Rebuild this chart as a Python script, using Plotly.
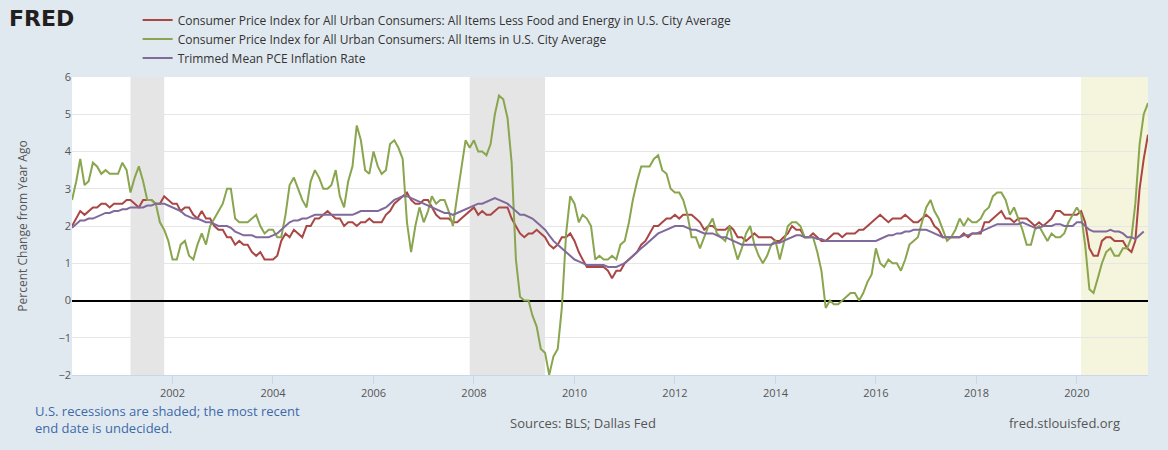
import plotly.graph_objects as go
import pandas as pd

core = [2.0,2.2,2.4,2.3,2.4,2.5,2.5,2.6,2.6,2.5,2.6,2.6,
2.6,2.7,2.7,2.6,2.5,2.7,2.7,2.7,2.6,2.6,2.8,2.7,
2.6,2.6,2.4,2.5,2.5,2.3,2.2,2.4,2.2,2.2,2.0,1.9,
1.9,1.7,1.7,1.5,1.6,1.5,1.5,1.3,1.2,1.3,1.1,1.1,
1.1,1.2,1.6,1.8,1.7,1.9,1.8,1.7,2.0,2.0,2.2,2.2,
2.3,2.4,2.3,2.2,2.2,2.0,2.1,2.1,2.0,2.1,2.1,2.2,
2.1,2.1,2.1,2.3,2.4,2.6,2.7,2.8,2.9,2.7,2.6,2.6,
2.7,2.7,2.5,2.3,2.2,2.2,2.2,2.1,2.1,2.2,2.3,2.4,
2.5,2.3,2.4,2.3,2.3,2.4,2.5,2.5,2.5,2.2,2.0,1.8,
1.7,1.8,1.8,1.9,1.8,1.7,1.5,1.4,1.5,1.7,1.7,1.8,
1.6,1.3,1.1,0.9,0.9,0.9,0.9,0.9,0.8,0.6,0.8,0.8,
1.0,1.1,1.2,1.3,1.5,1.6,1.8,2.0,2.0,2.1,2.2,2.2,
2.3,2.2,2.3,2.3,2.3,2.2,2.1,1.9,2.0,2.0,1.9,1.9,
1.9,2.0,1.9,1.7,1.7,1.6,1.7,1.8,1.7,1.7,1.7,1.7,
1.6,1.6,1.7,1.8,2.0,1.9,1.9,1.7,1.7,1.8,1.7,1.6,
1.6,1.7,1.8,1.8,1.7,1.8,1.8,1.8,1.9,1.9,2.0,2.1,
2.2,2.3,2.2,2.1,2.2,2.2,2.2,2.3,2.2,2.1,2.1,2.2,
2.3,2.2,2.0,1.9,1.7,1.7,1.7,1.7,1.7,1.8,1.7,1.8,
1.8,1.8,2.1,2.1,2.2,2.3,2.4,2.2,2.2,2.1,2.2,2.2,
2.2,2.1,2.0,2.1,2.0,2.1,2.2,2.4,2.4,2.3,2.3,2.3,
2.3,2.4,2.1,1.4,1.2,1.2,1.6,1.7,1.7,1.6,1.6,1.6,
1.4,1.3,1.6,3.0,3.8,4.45]

headline = [2.7,3.2,3.8,3.1,3.2,3.7,3.6,3.4,3.5,3.4,3.4,3.4,
3.7,3.5,2.9,3.3,3.6,3.2,2.7,2.7,2.6,2.1,1.9,1.6,
1.1,1.1,1.5,1.6,1.2,1.1,1.5,1.8,1.5,2.0,2.2,2.4,
2.6,3.0,3.0,2.2,2.1,2.1,2.1,2.2,2.3,2.0,1.8,1.9,
1.9,1.7,1.7,2.3,3.1,3.3,3.0,2.7,2.5,3.2,3.5,3.3,
3.0,3.0,3.1,3.5,2.8,2.5,3.2,3.6,4.7,4.3,3.5,3.4,
4.0,3.6,3.4,3.5,4.2,4.3,4.1,3.8,2.1,1.3,2.0,2.5,
2.1,2.4,2.8,2.6,2.7,2.7,2.4,2.0,2.8,3.5,4.3,4.1,
4.3,4.0,4.0,3.9,4.2,5.0,5.5,5.4,4.9,3.7,1.1,0.1,
0.0,0.0,-0.4,-0.7,-1.3,-1.4,-2.0,-1.5,-1.3,-0.2,1.8,2.8,
2.6,2.1,2.3,2.2,2.0,1.1,1.2,1.1,1.1,1.2,1.1,1.5,
1.6,2.1,2.7,3.2,3.6,3.6,3.6,3.8,3.9,3.5,3.4,3.0,
2.9,2.9,2.7,2.3,1.7,1.7,1.4,1.7,2.0,2.2,1.8,1.7,
1.6,2.0,1.5,1.1,1.4,1.8,2.0,1.5,1.2,1.0,1.2,1.5,
1.6,1.1,1.5,2.0,2.1,2.1,2.0,1.7,1.7,1.7,1.3,0.8,
-0.2,0.0,-0.1,-0.1,0.0,0.1,0.2,0.2,0.0,0.2,0.5,0.7,
1.4,1.0,0.9,1.1,1.0,1.0,0.8,1.1,1.5,1.6,1.7,2.1,
2.5,2.7,2.4,2.2,1.9,1.6,1.7,1.9,2.2,2.0,2.2,2.1,
2.1,2.2,2.4,2.5,2.8,2.9,2.9,2.7,2.3,2.5,2.2,1.9,
1.5,1.5,1.9,2.0,1.8,1.6,1.8,1.7,1.7,1.8,2.1,2.3,
2.5,2.3,1.5,0.3,0.2,0.6,1.0,1.3,1.4,1.2,1.2,1.4,
1.4,1.7,2.6,4.2,5.0,5.3]

trimmed = [1.95,2.05,2.15,2.15,2.2,2.2,2.25,2.3,2.35,2.35,2.4,2.4,
2.45,2.45,2.5,2.5,2.5,2.5,2.55,2.55,2.6,2.6,2.6,2.55,
2.5,2.45,2.4,2.3,2.25,2.2,2.2,2.15,2.1,2.1,2.05,2.0,
2.0,2.0,1.95,1.85,1.8,1.75,1.75,1.75,1.7,1.7,1.7,1.7,
1.75,1.8,1.9,2.0,2.1,2.15,2.15,2.2,2.2,2.25,2.3,2.3,
2.3,2.3,2.3,2.3,2.3,2.3,2.3,2.3,2.35,2.4,2.4,2.4,
2.4,2.4,2.45,2.5,2.6,2.7,2.75,2.8,2.8,2.75,2.7,2.65,
2.6,2.55,2.5,2.45,2.4,2.35,2.35,2.3,2.35,2.4,2.45,2.5,
2.55,2.6,2.6,2.65,2.7,2.75,2.7,2.65,2.6,2.5,2.4,2.3,
2.3,2.25,2.2,2.1,2.0,1.9,1.75,1.6,1.5,1.4,1.3,1.2,
1.1,1.05,1.0,0.95,0.95,0.95,0.95,0.95,0.9,0.9,0.9,0.95,
1.0,1.1,1.2,1.3,1.4,1.5,1.6,1.7,1.8,1.85,1.9,1.95,
2.0,2.0,2.0,1.95,1.9,1.9,1.85,1.8,1.8,1.8,1.75,1.7,
1.7,1.65,1.6,1.55,1.5,1.5,1.5,1.5,1.5,1.5,1.5,1.5,
1.55,1.55,1.6,1.65,1.7,1.75,1.75,1.7,1.7,1.7,1.65,1.65,
1.6,1.6,1.6,1.6,1.6,1.6,1.6,1.6,1.6,1.6,1.6,1.6,
1.6,1.65,1.7,1.75,1.75,1.8,1.8,1.85,1.85,1.9,1.9,1.9,
1.9,1.85,1.8,1.75,1.7,1.7,1.7,1.7,1.7,1.75,1.75,1.8,
1.8,1.85,1.9,1.95,2.0,2.05,2.05,2.05,2.05,2.05,2.05,2.1,
2.05,2.0,1.95,1.95,2.0,2.0,2.0,2.05,2.05,2.0,2.0,2.0,
2.1,2.1,2.0,1.9,1.85,1.85,1.85,1.85,1.9,1.85,1.85,1.8,
1.7,1.7,1.65,1.75,1.85]

tick_years = ["2002", "2004", "2006", "2008", "2010", "2012", "2014", "2016", "2018", "2020"]

dates = pd.date_range("2000-01-01", periods=len(core), freq="MS")
dates_t = dates[:len(trimmed)]

recessions = [("2001-03-01", "2001-11-01", "#e5e5e5"),
              ("2007-12-01", "2009-06-01", "#e5e5e5"),
              ("2020-02-01", "2021-06-01", "#f5f4dc")]

names = ["Consumer Price Index for All Urban Consumers: All Items Less Food and Energy in U.S. City Average",
         "Consumer Price Index for All Urban Consumers: All Items in U.S. City Average",
         "Trimmed Mean PCE Inflation Rate"]

fig = go.Figure()
fig.add_trace(go.Scatter(x=dates, y=core, name=names[0], mode="lines", line=dict(color="#aa4643", width=2)))
fig.add_trace(go.Scatter(x=dates, y=headline, name=names[1], mode="lines", line=dict(color="#89a54e", width=2)))
fig.add_trace(go.Scatter(x=dates_t, y=trimmed, name=names[2], mode="lines", line=dict(color="#80699b", width=2)))

for s, e, c in recessions:
    fig.add_vrect(x0=s, x1=e, fillcolor=c, opacity=1, line_width=0, layer="below")

fig.update_layout(
    width=1168, height=450, paper_bgcolor="#e1e9f0", plot_bgcolor="white",
    margin=dict(l=72, r=20, t=77, b=75, autoexpand=False),
    font=dict(family="Open Sans, DejaVu Sans, sans-serif", color="#333", size=11),
    legend=dict(x=0.061, xanchor="left", y=1.24, yanchor="top", bgcolor="rgba(0,0,0,0)",
                font=dict(size=12, color="#333"), tracegroupgap=0, itemwidth=30),
    showlegend=True,
)
fig.update_xaxes(range=["2000-01-01", "2021-06-01"], showgrid=False, ticks="outside",
                 tickcolor="#ccd6eb", ticklen=8, linecolor="#ccd6eb", showline=True,
                 tickvals=[y + "-01-01" for y in tick_years], ticktext=tick_years,
                 tickfont=dict(color="#555"))
fig.update_yaxes(range=[-2, 6], dtick=1, gridcolor="#e6e6e6", zeroline=True, zerolinecolor="black",
                 zerolinewidth=2, tickfont=dict(color="#555"),
                 title=dict(text="Percent Change from Year Ago", font=dict(size=12, color="#555"), standoff=28))

fig.add_annotation(xref="paper", yref="paper", x=-0.06, y=1.245, xanchor="left", yanchor="top",
                   text="<b>FRED</b>", showarrow=False, font=dict(size=22, color="#231f20", family="Arial Black, DejaVu Sans"))
fig.add_annotation(xref="paper", yref="paper", x=-0.036, y=-0.085, xanchor="left", yanchor="top", align="left",
                   text="U.S. recessions are shaded; the most recent<br>end date is undecided.", showarrow=False,
                   font=dict(size=13, color="#3d6aa8"))
fig.add_annotation(xref="paper", yref="paper", x=0.475, y=-0.162, xanchor="center", yanchor="middle",
                   text="Sources: BLS; Dallas Fed", showarrow=False, font=dict(size=13, color="#555"))
fig.add_annotation(xref="paper", yref="paper", x=0.976, y=-0.162, xanchor="right", yanchor="middle",
                   text="fred.stlouisfed.org", showarrow=False, font=dict(size=13, color="#555"))

fig.write_html("out.html", config={"displayModeBar": False},
               post_script="document.body.style.margin='0';document.body.style.background='#e1e9f0';")
